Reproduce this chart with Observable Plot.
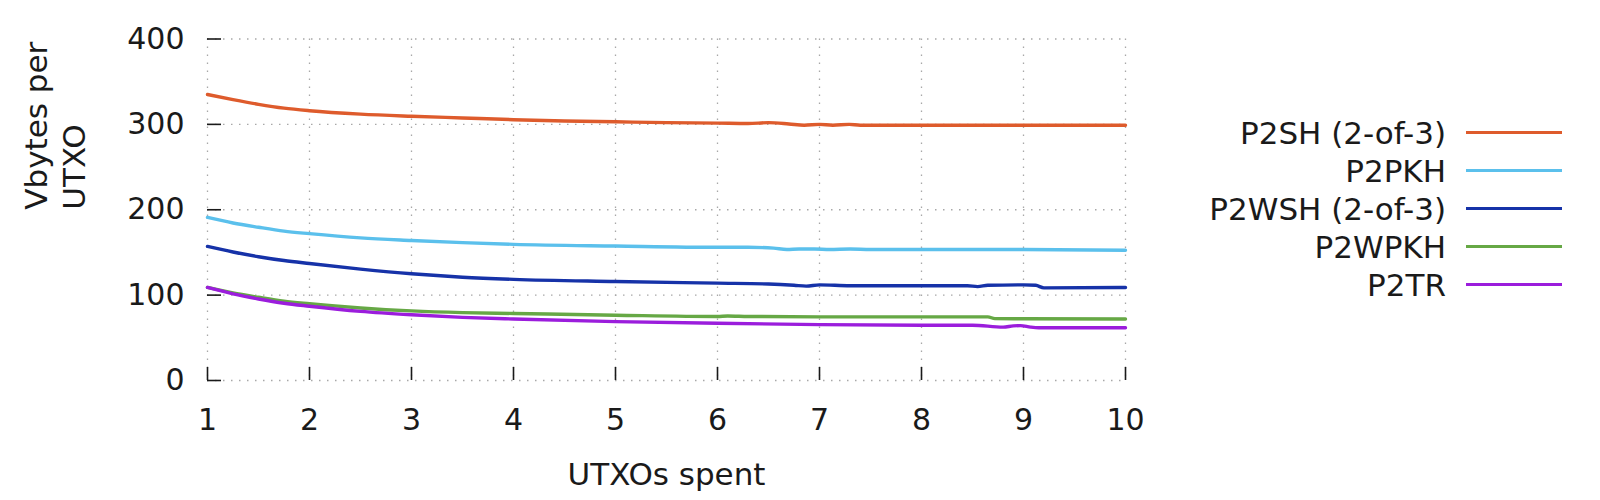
<!DOCTYPE html>
<html>
<head>
<meta charset="utf-8">
<script src="https://cdn.jsdelivr.net/npm/d3@7"></script>
<script src="https://cdn.jsdelivr.net/npm/@observablehq/plot@0.6"></script>
<style>
  html, body { margin: 0; padding: 0; background: #fff; }
  #wrap { position: relative; width: 1600px; height: 500px; font-family: "DejaVu Sans", sans-serif; color: #1a1a1a; }
  #legend { position: absolute; left: 1100px; top: 113.7px; width: 462px; }
  .row { display: flex; align-items: center; justify-content: flex-end; height: 38px; line-height: 38px; font-size: 31px; }
  .row .lab { text-align: right; white-space: nowrap; }
  .row .sw { width: 96px; height: 3.5px; margin-left: 20px; flex: none; }
</style>
</head>
<body>
<div id="wrap"><div id="legend"></div></div>
<script>
const seriesNames = ["P2SH (2-of-3)", "P2PKH", "P2WSH (2-of-3)", "P2WPKH", "P2TR"];
const seriesColors = ["#de5b2c", "#5bc0ec", "#1632a8", "#66a845", "#9b1ddc"];
const xTicks = [1, 2, 3, 4, 5, 6, 7, 8, 9, 10];
const yTicks = [0, 100, 200, 300, 400];

const p2shX = [1, 1.25, 1.5, 1.75, 2, 2.5, 3, 3.5, 4, 4.5, 5, 5.5, 6, 6.3, 6.5, 6.7, 6.85, 7.0, 7.13, 7.29, 7.4, 8, 9, 10];
const p2shY = [335, 329, 323.5, 319, 316, 312, 309.5, 307.5, 305.5, 304, 303, 302, 301.5, 301, 302, 300.5, 299, 300, 299, 300, 299, 299, 299, 299];

const p2pkhX = [1, 1.25, 1.5, 1.75, 2, 2.5, 3, 3.5, 4, 5, 6, 6.3, 6.55, 6.68, 6.8, 6.95, 7.1, 7.3, 7.5, 8, 9, 10];
const p2pkhY = [191, 184.5, 179.5, 175, 172, 167, 164, 161.5, 159.5, 157.5, 156, 156, 155, 153.5, 154, 154, 153.5, 154, 153.5, 153.5, 153.5, 152.5];

const p2wshX = [1, 1.25, 1.5, 1.75, 2, 2.5, 3, 3.5, 4, 5, 6, 6.5, 6.75, 6.87, 7.0, 7.3, 8, 8.45, 8.55, 8.65, 9, 9.12, 9.2, 10];
const p2wshY = [157, 150.5, 145, 140.5, 137, 130.5, 125, 121, 118.5, 116, 114, 113, 111.5, 110.5, 112, 111, 111, 111, 110, 111.5, 112, 111.5, 108.5, 109];

const p2wpkhX = [1, 1.25, 1.5, 1.75, 2, 2.5, 3, 3.5, 4, 5, 6, 6.1, 6.3, 7, 8, 8.65, 8.72, 9, 10];
const p2wpkhY = [109, 102.5, 97.5, 93, 90, 85, 81.5, 79.5, 78.5, 76.5, 75, 75.6, 75, 74.5, 74.5, 74.5, 72.5, 72.3, 72];

const p2trX = [1, 1.25, 1.5, 1.75, 2, 2.5, 3, 3.5, 4, 5, 6, 7, 8, 8.5, 8.8, 8.9, 8.97, 9.07, 9.15, 10];
const p2trY = [109, 101.5, 95.5, 90.5, 87, 81, 77, 74, 72, 69, 67, 65.5, 64.8, 64.8, 62.5, 64, 64.3, 62.5, 61.8, 61.8];

const seriesX = [p2shX, p2pkhX, p2wshX, p2wpkhX, p2trX];
const seriesY = [p2shY, p2pkhY, p2wshY, p2wpkhY, p2trY];

const rows = [];
seriesNames.forEach((name, i) => {
  seriesX[i].forEach((x, j) => rows.push({series: name, x, y: seriesY[i][j]}));
});

const gridStyle = {stroke: "#a8a8a8", strokeOpacity: 1, strokeDasharray: "1.5,6.5", strokeWidth: 1.3};

const chart = Plot.plot({
  width: 1600,
  height: 500,
  marginLeft: 207,
  marginRight: 475,
  marginTop: 38.5,
  marginBottom: 120,
  style: {fontFamily: "DejaVu Sans", fontSize: "30px", color: "#1a1a1a", background: "transparent"},
  x: {domain: [1, 10]},
  y: {domain: [0, 400]},
  color: {domain: seriesNames, range: seriesColors},
  marks: [
    Plot.gridX(xTicks, gridStyle),
    Plot.gridY(yTicks, gridStyle),
    Plot.axisX(xTicks, {tickSize: -13, tickPadding: 41, label: null, strokeWidth: 1.6, stroke: "#1a1a1a"}),
    Plot.axisY(yTicks, {tickSize: -14, tickPadding: 37, label: null, strokeWidth: 1.6, stroke: "#1a1a1a"}),
    Plot.line(rows, {x: "x", y: "y", z: "series", stroke: "series", strokeWidth: 3.4, strokeLinejoin: "round", curve: "monotone-x"}),
    Plot.text(["Vbytes per\nUTXO"], {text: d => d, frameAnchor: "left", rotate: -90, dx: -154, lineHeight: 1.24, fontSize: 31, fill: "#1a1a1a"}),
    Plot.text(["UTXOs spent"], {text: d => d, frameAnchor: "bottom", lineAnchor: "middle", dy: 95, fontSize: 31, fill: "#1a1a1a"})
  ]
});
const wrap = document.getElementById("wrap");
wrap.insertBefore(chart, wrap.firstChild);

const legend = document.getElementById("legend");
seriesNames.forEach((name, i) => {
  const row = document.createElement("div");
  row.className = "row";
  const lab = document.createElement("span");
  lab.className = "lab";
  lab.textContent = name;
  const sw = document.createElement("span");
  sw.className = "sw";
  sw.style.background = seriesColors[i];
  row.appendChild(lab);
  row.appendChild(sw);
  legend.appendChild(row);
});
</script>
</body>
</html>
